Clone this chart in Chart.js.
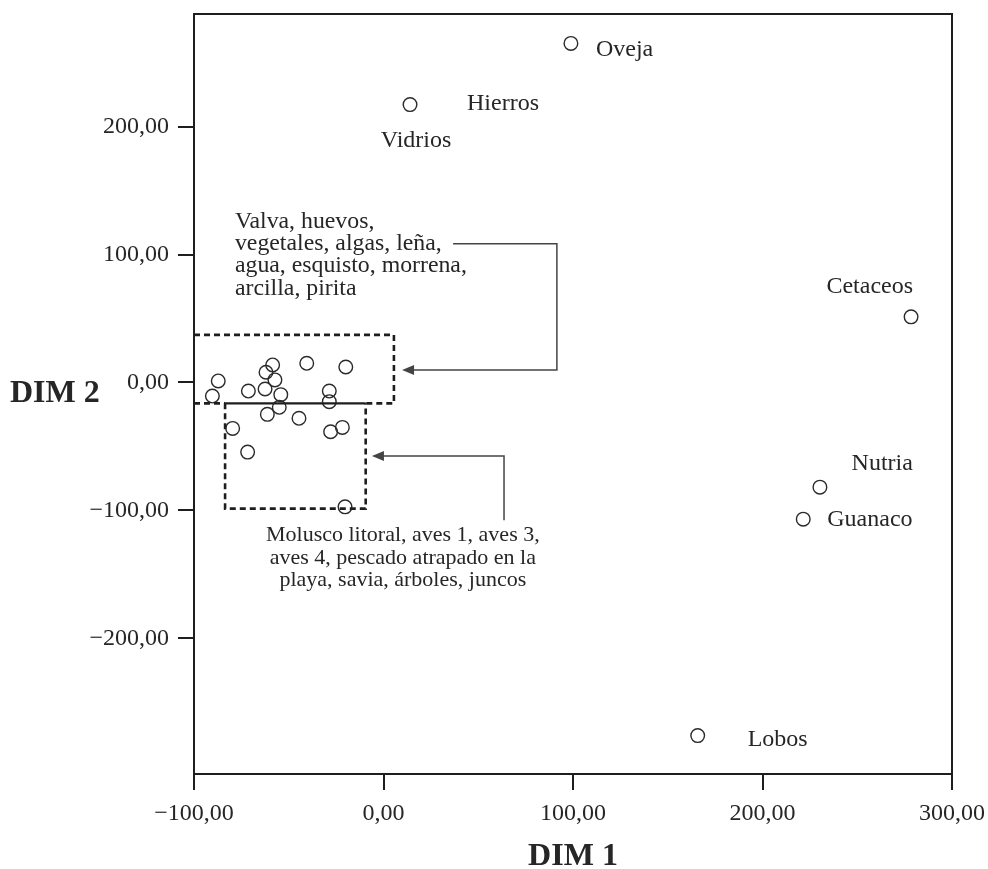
<!DOCTYPE html>
<html>
<head>
<meta charset="utf-8">
<script src="https://cdn.jsdelivr.net/npm/chart.js@4.4.1/dist/chart.umd.min.js"></script>
<style>
  html, body { margin: 0; padding: 0; background: #fff; }
  #wrap { width: 988px; height: 869px; }
</style>
</head>
<body>
<div id="wrap"><canvas id="mdsChart" width="988" height="869"></canvas></div>
<script>
// 軸
const xTicks = [-100, 0, 100, 200, 300];
const yTicks = [-200, -100, 0, 100, 200];
const xMin = -100, xMax = 300;
const yMin = -306, yMax = 288;

// 名前付きの点
const namedLabels = ['Oveja', 'Vidrios', 'Cetaceos', 'Nutria', 'Guanaco', 'Lobos'];
const namedX = [98.9, 14.0, 278.4, 230.3, 221.5, 165.8];
const namedY = [265.0, 217.2, 51.3, -81.8, -106.8, -276.0];

// 左下のかたまり
const clusterX = [-87.2, -90.3, -71.3, -58.5, -62.0, -57.3, -62.5, -54.2, -40.5, -19.9,
                  -28.6, -28.6, -55.0, -61.3, -44.6, -79.6, -27.9, -21.7, -71.7, -20.3];
const clusterY = [1.2, -10.6, -6.7, 13.7, 8.0, 2.0, -5.1, -9.5, 15.0, 12.1,
                  -6.7, -15.0, -19.4, -24.9, -28.0, -35.9, -38.5, -35.1, -54.4, -97.2];

// 注記テキスト
const upperNote = ['Valva, huevos,', 'vegetales, algas, leña,', 'agua, esquisto, morrena,', 'arcilla, pirita'];
const lowerNote = ['Molusco litoral, aves 1, aves 3,', 'aves 4, pescado atrapado en la', 'playa, savia, árboles, juncos'];

const TEXT = '#262626';
const LINE = '#1e1e1e';
const SERIF = '"Liberation Serif", "Times New Roman", serif';

// ラベル位置 (点からのずれ, px)
const labelStyle = {
    Oveja:    { ref: 'Oveja',    dx: 25, dy: 6,   align: 'left' },
    Hierros:  { ref: 'Vidrios',  dx: 57, dy: -1,  align: 'left' },
    Vidrios:  { ref: 'Vidrios',  dx: 6,  dy: 36,  align: 'center' },
    Cetaceos: { ref: 'Cetaceos', dx: 2,  dy: -30, align: 'right' },
    Nutria:   { ref: 'Nutria',   dx: 93, dy: -23, align: 'right' },
    Guanaco:  { ref: 'Guanaco',  dx: 24, dy: 1,   align: 'left' },
    Lobos:    { ref: 'Lobos',    dx: 50, dy: 4,   align: 'left' }
};

function fmt(v) {
    const s = Math.abs(v).toFixed(2).replace('.', ',');
    return v < 0 ? '\u2212' + s : s;
}

function arrowHead(ctx, x, y, dir) {
    // dir: -1 で左向き
    ctx.beginPath();
    ctx.moveTo(x, y);
    ctx.lineTo(x - dir * 12, y - 5);
    ctx.lineTo(x - dir * 12, y + 5);
    ctx.closePath();
    ctx.fill();
}

const notesPlugin = {
    id: 'notes',
    afterDatasetsDraw(chart) {
        const ctx = chart.ctx;
        const xs = chart.scales.x, ys = chart.scales.y;
        const px = v => xs.getPixelForValue(v);
        const py = v => ys.getPixelForValue(v);
        const area = chart.chartArea;
        ctx.save();

        // 上と右の枠
        ctx.strokeStyle = LINE;
        ctx.lineWidth = 2;
        ctx.beginPath();
        ctx.moveTo(area.left, area.top);
        ctx.lineTo(area.right, area.top);
        ctx.lineTo(area.right, area.bottom);
        ctx.stroke();

        // 点線の枠
        ctx.lineWidth = 2.6;
        ctx.setLineDash([6, 4]);
        ctx.beginPath();
        ctx.moveTo(px(-100), py(37.2));
        ctx.lineTo(px(5.5), py(37.2));
        ctx.lineTo(px(5.5), py(-16.3));
        ctx.lineTo(px(-9.4), py(-16.3));
        ctx.moveTo(px(-83.6), py(-16.3));
        ctx.lineTo(px(-83.6), py(-98.6));
        ctx.lineTo(px(-9.4), py(-98.6));
        ctx.lineTo(px(-9.4), py(-16.3));
        ctx.moveTo(px(-100), py(-16.3));
        ctx.lineTo(px(-83.6), py(-16.3));
        ctx.stroke();
        ctx.setLineDash([]);
        ctx.lineWidth = 2.2;
        ctx.beginPath();
        ctx.moveTo(px(-83.6), py(-16.3));
        ctx.lineTo(px(-9.4), py(-16.3));
        ctx.stroke();

        // 矢印
        ctx.strokeStyle = '#444';
        ctx.fillStyle = '#444';
        ctx.lineWidth = 1.5;
        ctx.beginPath();
        ctx.moveTo(px(36.7), py(108.4));
        ctx.lineTo(px(91.5), py(108.4));
        ctx.lineTo(px(91.5), py(9.8));
        ctx.lineTo(px(9.8) + 10, py(9.8));
        ctx.stroke();
        arrowHead(ctx, px(9.8), py(9.8), -1);

        ctx.beginPath();
        ctx.moveTo(px(63.6), py(-107.6));
        ctx.lineTo(px(63.6), py(-57.5));
        ctx.lineTo(px(-6.1) + 10, py(-57.5));
        ctx.stroke();
        arrowHead(ctx, px(-6.1), py(-57.5), -1);

        // 注記
        ctx.fillStyle = TEXT;
        ctx.font = '23.8px ' + SERIF;
        ctx.textBaseline = 'middle';
        ctx.textAlign = 'left';
        upperNote.forEach((line, i) => {
            ctx.fillText(line, px(-78.4), py(125.9) + i * 22.3);
        });
        ctx.font = '22px ' + SERIF;
        ctx.textAlign = 'center';
        lowerNote.forEach((line, i) => {
            ctx.fillText(line, px(10.2), py(-119.4) + i * 22.5);
        });

        // 点のラベル
        ctx.font = '24px ' + SERIF;
        Object.keys(labelStyle).forEach(name => {
            const st = labelStyle[name];
            const k = namedLabels.indexOf(st.ref);
            ctx.textAlign = st.align;
            ctx.fillText(name, px(namedX[k]) + st.dx, py(namedY[k]) + st.dy);
        });

        // 軸タイトル
        ctx.font = 'bold 32px ' + SERIF;
        ctx.textAlign = 'left';
        ctx.fillText('DIM 2', 10, (area.top + area.bottom) / 2);
        ctx.textAlign = 'center';
        ctx.fillText('DIM 1', (area.left + area.right) / 2, 857);
        ctx.restore();
    }
};

const allX = clusterX.concat(namedX);
const allY = clusterY.concat(namedY);

new Chart(document.getElementById('mdsChart'), {
    type: 'scatter',
    data: {
        datasets: [{
            data: allX.map((x, i) => ({ x: x, y: allY[i] })),
            pointRadius: 6.8,
            pointBorderWidth: 1.4,
            borderColor: '#2a2a2a',
            backgroundColor: 'rgba(255,255,255,0)'
        }]
    },
    options: {
        responsive: false,
        animation: false,
        layout: { padding: { top: 14, right: 36, left: 0, bottom: 0 } },
        plugins: { legend: { display: false }, tooltip: { enabled: false } },
        scales: {
            x: {
                type: 'linear',
                min: xMin,
                max: xMax,
                afterBuildTicks: s => { s.ticks = xTicks.map(v => ({ value: v })); },
                afterFit: s => { s.height = 95; s.paddingLeft = 0; s.paddingRight = 0; },
                grid: { display: true, drawOnChartArea: false, tickLength: 16, lineWidth: 2, color: LINE },
                border: { display: true, width: 2, color: LINE },
                ticks: { font: { family: SERIF, size: 24 }, color: TEXT, padding: 9, maxRotation: 0, callback: v => fmt(v) }
            },
            y: {
                type: 'linear',
                min: yMin,
                max: yMax,
                afterBuildTicks: s => { s.ticks = yTicks.map(v => ({ value: v })); },
                afterFit: s => { s.width = 194; s.paddingTop = 0; s.paddingBottom = 0; },
                grid: { display: true, drawOnChartArea: false, tickLength: 16, lineWidth: 2, color: LINE },
                border: { display: true, width: 2, color: LINE },
                ticks: { font: { family: SERIF, size: 24 }, color: TEXT, padding: 9, callback: v => fmt(v) }
            }
        }
    },
    plugins: [notesPlugin]
});
</script>
</body>
</html>
